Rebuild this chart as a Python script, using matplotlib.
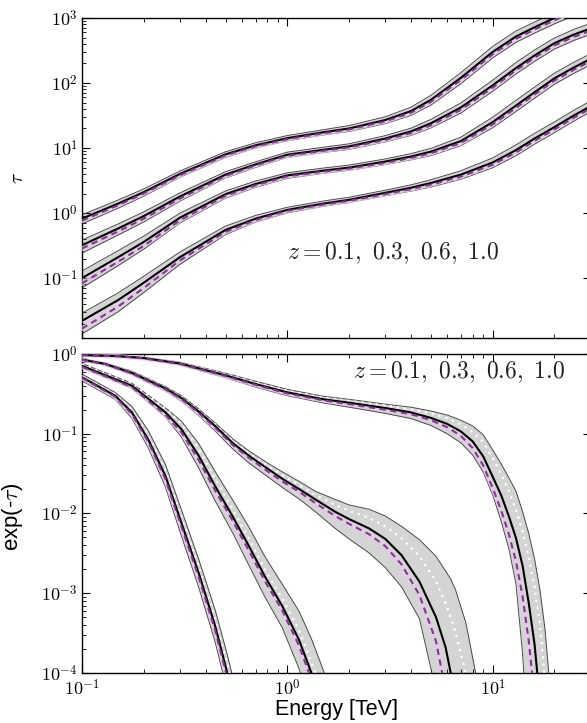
import numpy as np
import matplotlib
matplotlib.use("Agg")
import matplotlib.pyplot as plt
from matplotlib.ticker import LogLocator, FuncFormatter, NullFormatter

plt.rcParams["mathtext.fontset"] = "cm"
plt.rcParams["font.family"] = ["Liberation Sans", "DejaVu Sans"]

REDSHIFTS = [0.1, 0.3, 0.6, 1.0]

# ---- optical depth tau(E) for each redshift (top panel) ----
E_TAU = [0.1, 0.15, 0.2, 0.3, 0.5, 0.7, 1.0, 1.5, 2.0, 3.0, 4.0, 5.0, 7.0,
         10.0, 13.0, 16.0, 20.0, 25.0, 30.0]

TAU_MID = [
    [0.022, 0.046, 0.085, 0.21, 0.55, 0.82, 1.12, 1.4, 1.6, 2.05, 2.45, 2.9, 3.9,
     6.0, 9.3, 14, 21, 32, 44],
    [0.10, 0.21, 0.36, 0.85, 1.95, 2.8, 3.8, 4.5, 5.0, 6.2, 7.4, 8.8, 12.8,
     25, 45, 72, 118, 175, 235],
    [0.32, 0.58, 0.90, 1.8, 3.9, 5.6, 7.9, 9.4, 10.6, 14, 18, 24, 42,
     92, 170, 265, 410, 560, 690],
    [0.82, 1.4, 2.1, 4.0, 8.0, 11, 14.2, 17.5, 20, 27, 37, 55, 120,
     300, 520, 720, 1000, 1350, 1700],
]

# band half-widths above / below the central curve, in decades
TAU_UP = [
    [0.12, 0.11, 0.10, 0.08, 0.06, 0.05, 0.04, 0.04, 0.04, 0.04, 0.045, 0.05, 0.06, 0.07, 0.08, 0.08, 0.08, 0.08, 0.08],
    [0.11, 0.10, 0.09, 0.07, 0.05, 0.045, 0.04, 0.04, 0.04, 0.04, 0.045, 0.05, 0.06, 0.075, 0.08, 0.08, 0.08, 0.08, 0.08],
    [0.08, 0.07, 0.065, 0.055, 0.045, 0.04, 0.04, 0.04, 0.04, 0.045, 0.05, 0.06, 0.07, 0.08, 0.085, 0.085, 0.08, 0.08, 0.08],
    [0.06, 0.055, 0.05, 0.045, 0.04, 0.04, 0.04, 0.04, 0.045, 0.05, 0.06, 0.07, 0.08, 0.085, 0.085, 0.08, 0.08, 0.08, 0.08],
]
TAU_DN = [
    [0.20, 0.18, 0.15, 0.11, 0.07, 0.05, 0.045, 0.04, 0.04, 0.045, 0.05, 0.06, 0.07, 0.08, 0.085, 0.085, 0.085, 0.085, 0.085],
    [0.15, 0.13, 0.11, 0.08, 0.06, 0.05, 0.045, 0.04, 0.04, 0.045, 0.05, 0.06, 0.07, 0.085, 0.09, 0.09, 0.09, 0.09, 0.09],
    [0.12, 0.10, 0.09, 0.07, 0.05, 0.045, 0.04, 0.04, 0.045, 0.05, 0.06, 0.07, 0.085, 0.09, 0.09, 0.09, 0.09, 0.09, 0.09],
    [0.08, 0.07, 0.06, 0.05, 0.045, 0.04, 0.04, 0.04, 0.045, 0.055, 0.065, 0.08, 0.09, 0.09, 0.09, 0.09, 0.09, 0.09, 0.09],
]
# dashed model, offset from the central curve (decades)
TAU_DASH = [
    [-0.12, -0.10, -0.08, -0.05, -0.03, -0.02, -0.015, -0.015, -0.015, -0.02, -0.02, -0.025, -0.03, -0.035, -0.035, -0.035, -0.035, -0.035, -0.035],
    [-0.08, -0.07, -0.06, -0.04, -0.025, -0.02, -0.015, -0.015, -0.015, -0.02, -0.02, -0.025, -0.03, -0.035, -0.035, -0.035, -0.035, -0.035, -0.035],
    [-0.05, -0.045, -0.04, -0.03, -0.02, -0.015, -0.015, -0.015, -0.015, -0.02, -0.025, -0.03, -0.035, -0.035, -0.035, -0.035, -0.035, -0.035, -0.035],
    [-0.03, -0.025, -0.02, -0.02, -0.015, -0.015, -0.015, -0.015, -0.015, -0.02, -0.025, -0.03, -0.035, -0.035, -0.035, -0.035, -0.035, -0.035, -0.035],
]
# dotted model offset, same for all redshifts
TAU_DOT = [-0.01, -0.01, -0.01, -0.01, -0.01, -0.01, -0.01, -0.015, -0.02, -0.03,
           -0.035, -0.04, -0.05, -0.055, -0.055, -0.055, -0.055, -0.055, -0.055]

# ---- attenuation exp(-tau) (bottom panel), one energy grid per redshift ----
E_ATT = [
    [0.1, 0.15, 0.2, 0.3, 0.5, 0.7, 1.0, 1.5, 2.0, 3.0, 4.0, 5.0, 6.0, 7.0, 8.0,
     9.0, 10.0, 11.0, 12.0, 13.0, 14.0, 15.0, 16.0, 17.0, 18.0, 19.0, 20.0],
    [0.1, 0.13, 0.175, 0.255, 0.305, 0.37, 0.445, 0.54, 0.65, 0.8, 0.95, 1.15, 1.37,
     1.71, 2.0, 2.5, 3.0, 3.6, 4.4, 5.3, 5.9, 6.25, 6.6, 7.4, 8.3, 9.0],
    [0.1, 0.135, 0.175, 0.255, 0.305, 0.37, 0.445, 0.54, 0.65, 0.78, 0.945, 1.14,
     1.31, 1.45, 1.6],
    [0.1, 0.145, 0.175, 0.21, 0.255, 0.305, 0.37, 0.445, 0.51, 0.55],
]
ATT_MID = [
    [0.97, 0.94, 0.89, 0.76, 0.54, 0.42, 0.33, 0.27, 0.245, 0.21, 0.185, 0.158, 0.133,
     0.107, 0.08, 0.052, 0.029, 0.017, 0.0092, 0.0049, 0.0022, 7.5e-4, 2.3e-4,
     4.5e-5, 5e-6, 1e-6, 1e-7],
    [0.85, 0.75, 0.58, 0.37, 0.28, 0.19, 0.125, 0.077, 0.053, 0.0366, 0.027, 0.020,
     0.015, 0.0105, 0.0085, 0.0065, 0.0048, 0.003, 0.0014, 5e-4, 2.1e-4, 1e-4,
     4.9e-5, 5e-6, 1e-6, 1e-7],
    [0.71, 0.52, 0.40, 0.185, 0.114, 0.053, 0.022, 0.0093, 0.0039, 0.0016, 6.9e-4,
     2.6e-4, 1.0e-4, 5.0e-5, 2.5e-5],
    [0.51, 0.30, 0.185, 0.085, 0.0295, 0.0076, 0.0018, 3.9e-4, 1.0e-4, 4.6e-5],
]
ATT_HI = [
    [0.98, 0.955, 0.91, 0.79, 0.575, 0.455, 0.36, 0.295, 0.27, 0.235, 0.215, 0.193,
     0.172, 0.148, 0.125, 0.097, 0.063, 0.042, 0.028, 0.019, 0.0105, 0.0056, 0.0027,
     0.0011, 3.5e-4, 7e-5, 1e-5],
    [0.87, 0.77, 0.61, 0.39, 0.30, 0.205, 0.137, 0.087, 0.061, 0.043, 0.033, 0.025,
     0.019, 0.015, 0.0128, 0.0113, 0.0093, 0.0069, 0.0047, 0.0029, 0.0019, 0.0015,
     0.0011, 4.3e-4, 9.5e-5, 2e-5],
    [0.76, 0.56, 0.43, 0.211, 0.1435, 0.0755, 0.0336, 0.0150, 0.00676, 0.00284,
     0.0013, 5.96e-4, 2.69e-4, 1.35e-4, 6.8e-5],
    [0.56, 0.33, 0.22, 0.11, 0.041, 0.0111, 0.00267, 6.2e-4, 1.7e-4, 7.7e-5],
]
ATT_LO = [
    [0.955, 0.92, 0.865, 0.73, 0.505, 0.385, 0.3, 0.243, 0.215, 0.18, 0.155, 0.127,
     0.1, 0.077, 0.054, 0.033, 0.0172, 0.008, 0.0036, 0.0013, 1.7e-4, 1e-5, 1e-6,
     1e-7, 1e-7, 1e-7, 1e-7],
    [0.83, 0.73, 0.55, 0.345, 0.255, 0.17, 0.108, 0.065, 0.043, 0.029, 0.021, 0.015,
     0.0105, 0.0065, 0.0048, 0.0032, 0.0021, 0.0012, 4.8e-4, 6e-5, 5e-6, 1e-6,
     1e-7, 1e-7, 1e-7, 1e-7],
    [0.662, 0.49, 0.373, 0.162, 0.0906, 0.0372, 0.0144, 0.0058, 0.00224, 8.85e-4,
     3.69e-4, 1.135e-4, 3.7e-5, 1.9e-5, 1.0e-5],
    [0.46, 0.27, 0.156, 0.067, 0.0214, 0.0052, 0.00119, 2.45e-4, 5.9e-5, 2.7e-5],
]
ATT_DASH = [
    [0.965, 0.935, 0.882, 0.75, 0.53, 0.41, 0.32, 0.262, 0.235, 0.2, 0.176, 0.148,
     0.121, 0.094, 0.066, 0.04, 0.021, 0.011, 0.0055, 0.0025, 9e-4, 2.5e-4, 5e-5,
     5e-6, 1e-6, 1e-7, 1e-7],
    [0.845, 0.745, 0.57, 0.36, 0.272, 0.183, 0.119, 0.073, 0.05, 0.034, 0.025, 0.0185,
     0.0135, 0.0093, 0.0074, 0.0055, 0.0039, 0.0023, 9.5e-4, 2.5e-4, 6e-5, 2e-5,
     1e-6, 1e-7, 1e-7, 1e-7],
    [0.69, 0.507, 0.384, 0.173, 0.104, 0.0469, 0.0194, 0.00822, 0.0034, 0.0014,
     6.08e-4, 2.2e-4, 8.26e-5, 4.1e-5, 2.1e-5],
    [0.50, 0.291, 0.176, 0.0796, 0.027, 0.00684, 0.00159, 3.44e-4, 8.7e-5, 4.0e-5],
]
ATT_DOT = [
    [0.975, 0.945, 0.9, 0.775, 0.56, 0.44, 0.345, 0.285, 0.258, 0.225, 0.203, 0.18,
     0.157, 0.131, 0.105, 0.078, 0.05, 0.031, 0.019, 0.011, 0.006, 0.0028, 0.0012,
     4e-4, 8e-5, 1e-5, 1e-6],
    [0.86, 0.76, 0.595, 0.38, 0.29, 0.198, 0.131, 0.082, 0.057, 0.04, 0.03, 0.0225,
     0.017, 0.0128, 0.0108, 0.0088, 0.0069, 0.0049, 0.0029, 0.0014, 7.5e-4, 5e-4,
     3.2e-4, 1e-4, 1.5e-5, 1e-6],
    [0.743, 0.55, 0.429, 0.2056, 0.1327, 0.0649, 0.0272, 0.01153, 0.00485, 0.00196,
     8.59e-4, 3.43e-4, 1.37e-4, 6.9e-5, 3.45e-5],
    [0.526, 0.313, 0.199, 0.095, 0.0342, 0.009, 0.00214, 4.8e-4, 1.27e-4, 5.8e-5],
]

BAND = "#d4d4d4"
EDGE = "#4a4a4a"
DASH = "#84368f"
HALO = "#e4cce8"


def draw_model(ax, e, mid, lo, hi, dash, dot):
    ax.fill_between(e, lo, hi, color=BAND, lw=0, zorder=1)
    ax.plot(e, lo, color=EDGE, lw=0.7, zorder=2)
    ax.plot(e, hi, color=EDGE, lw=0.7, zorder=2)
    ax.plot(e, dot, color="white", lw=1.6, ls=(0, (1.0, 2.2)), zorder=3)
    ax.plot(e, dash, color=HALO, lw=3.2, alpha=0.8, zorder=3)
    ax.plot(e, mid, color="black", lw=1.5, zorder=4)
    ax.plot(e, dash, color=DASH, lw=1.5, ls=(0, (3, 2.2)), zorder=5)


def pow10(v, pos):
    return r"$10^{%d}$" % int(round(np.log10(v)))


def style_axis(ax):
    ax.set_xscale("log")
    ax.set_yscale("log")
    for axis in (ax.xaxis, ax.yaxis):
        axis.set_major_locator(LogLocator(base=10, numticks=12))
        axis.set_minor_locator(LogLocator(base=10, subs=np.arange(2, 10), numticks=12))
        axis.set_major_formatter(FuncFormatter(pow10))
        axis.set_minor_formatter(NullFormatter())
    ax.tick_params(which="both", direction="in", top=True, right=True,
                   labelsize=13, pad=3)
    ax.tick_params(which="major", length=6, width=0.8)
    ax.tick_params(which="minor", length=3, width=0.6)
    for s in ax.spines.values():
        s.set_linewidth(1.0)


fig = plt.figure(figsize=(5.87, 7.23), dpi=100)
ax1 = fig.add_axes([0.1397, 0.5325, 0.8664, 0.4426])
ax2 = fig.add_axes([0.1397, 0.0692, 0.8664, 0.4412])

e_tau = np.array(E_TAU)
for i in range(len(REDSHIFTS)):
    mid = np.array(TAU_MID[i])
    draw_model(ax1, e_tau, mid,
               mid * 10 ** -np.array(TAU_DN[i]),
               mid * 10 ** np.array(TAU_UP[i]),
               mid * 10 ** np.array(TAU_DASH[i]),
               mid * 10 ** np.array(TAU_DOT))

for i in range(len(REDSHIFTS)):
    draw_model(ax2, E_ATT[i], ATT_MID[i], ATT_LO[i], ATT_HI[i],
               ATT_DASH[i], ATT_DOT[i])

for ax in (ax1, ax2):
    style_axis(ax)
    ax.set_xlim(0.1, 30)

ax1.set_ylim(0.012, 1000)
ax2.set_ylim(1e-4, 1)
ax1.tick_params(labelbottom=False)
ax2.tick_params(axis="x", pad=4)

ax1.set_ylabel(r"$\tau$", fontsize=14)
ax1.yaxis.set_label_coords(-0.108, 0.5)
ax2.set_ylabel(r"exp(-$\tau$)", fontsize=16)
ax2.yaxis.set_label_coords(-0.112, 0.49)
ax2.set_xlabel("Energy [TeV]", fontsize=15.5, labelpad=0)

zlabel = r"$z = 0.1,\ 0.3,\ 0.6,\ 1.0$"
ax1.text(0.403, 0.266, zlabel, transform=ax1.transAxes, fontsize=17,
         ha="left", va="center", color="#222222")
ax2.text(0.533, 0.944, zlabel, transform=ax2.transAxes, fontsize=17,
         ha="left", va="center", color="#222222")

fig.savefig("out.png", dpi=100)
